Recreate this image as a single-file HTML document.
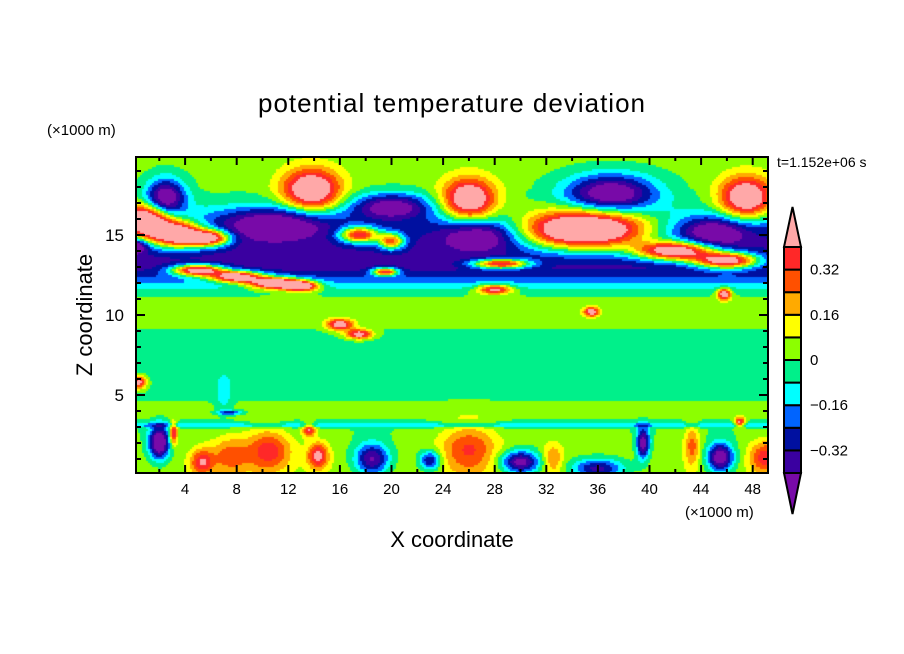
<!DOCTYPE html>
<html><head><meta charset="utf-8">
<style>
body{margin:0;background:#fff;width:904px;height:654px;overflow:hidden;font-family:"Liberation Sans",sans-serif;}
#wrap{position:relative;width:904px;height:654px;}
</style></head>
<body>
<div id="wrap">
<svg id="svg" width="904" height="654" style="position:absolute;left:0;top:0">
<foreignObject x="136" y="157" width="632" height="316">
<canvas id="cv" width="632" height="316" xmlns="http://www.w3.org/1999/xhtml" style="display:block"></canvas>
</foreignObject>
<g id="axes"></g>
<g id="cbar"></g>
<text x="452" y="112" text-anchor="middle" font-family="Liberation Sans, sans-serif" font-size="26" letter-spacing="1">potential temperature deviation</text>
<text x="47" y="135" font-family="Liberation Sans, sans-serif" font-size="15">(×1000 m)</text>
<text x="685" y="517" font-family="Liberation Sans, sans-serif" font-size="15">(×1000 m)</text>
<text x="452" y="547" text-anchor="middle" font-family="Liberation Sans, sans-serif" font-size="22">X coordinate</text>
<text transform="translate(92,315) rotate(-90)" text-anchor="middle" font-family="Liberation Sans, sans-serif" font-size="22">Z coordinate</text>
<text x="777" y="167" font-family="Liberation Sans, sans-serif" font-size="14">t=1.152e+06 s</text>
</svg>
</div>
<script>
// contour levels and colours
const levels=[-0.4,-0.32,-0.24,-0.16,-0.08,0,0.08,0.16,0.24,0.32,0.4];
const colors=["#780aa8","#3a00a0","#0010a0","#0064ff","#00ffff","#00f08a","#8cff00","#ffff00","#ffaa00","#ff5000","#ff2828","#ffa8a8"];
const cbLabels=["0.32","0.16","0","−0.16","−0.32"];
const cbLabelLevels=[0.32,0.16,0,-0.16,-0.32];
const xTicks=[4,8,12,16,20,24,28,32,36,40,44,48];
const yTicks=[5,10,15];
// background vertical profile
const zProf=[0,0.5,1,2,2.9,3.1,3.3,3.6,4,5,6,8,9,9.5,11,11.5,11.8,12.2,12.6,13,13.5,14,14.5,15,15.5,16,16.5,17,18,20];
const vProf=[0.05,0.05,0.04,0.03,0.0,-0.17,-0.04,0.03,0.03,-0.02,-0.04,-0.04,-0.01,0.02,0.02,-0.04,-0.12,-0.2,-0.3,-0.36,-0.36,-0.34,-0.33,-0.3,-0.26,-0.18,-0.1,-0.03,0.02,0.03];
// blobs: x(km), z(km), amplitude, x-width, z-width
const bx=[2.5,1,3.5,6,0.2,5,8,11,13,13.8,11,20,17.5,20,26,27,35,42,46,37,47.5,45,45.8,28,16,17.5,35.5,19.5,28.5,
 2,3.1,5.3,7.5,11,14.3,13.6,18.5,23,26,30,32.5,36,39.5,43.3,45.5,49,47,7.5,7,0.4,10];
const bz=[17.3,15.8,15,14.8,14.3,12.8,12.4,12.0,11.8,17.8,15.8,16.8,15,14.6,17.2,15,15.3,14,13.4,17.6,17.3,15.2,11.3,11.6,9.4,8.8,10.2,12.7,13.2,
 2,2.6,0.8,1.2,1.5,1.2,2.8,1,0.9,1.6,0.8,1,0.4,2,1.8,1.1,1.1,3.3,3.9,5,5.8,1.5];
const ba=[-0.55,0.95,0.9,0.75,-0.35,0.85,0.8,0.8,0.65,0.62,-0.35,-0.45,0.7,0.6,0.62,-0.3,1.05,0.85,0.85,-0.55,0.62,-0.3,0.55,0.5,0.5,0.5,0.5,0.7,0.75,
 -0.6,0.45,0.35,0.25,0.2,0.42,0.4,-0.45,-0.4,0.3,-0.5,0.22,-0.4,-0.5,0.25,-0.55,0.35,0.45,-0.3,-0.12,0.5,0.18];
const bsx=[1.5,2,2,1.5,0.8,2,2,2,1.3,2.2,4,3,1.5,1,2,2.8,5,3,2.5,3.5,2,2.5,0.5,1.3,1.0,1.0,0.6,1,2.2,
 0.8,0.3,0.9,1.5,1.5,0.8,0.5,1.3,0.8,2.2,1.5,0.8,2,0.5,0.6,1,1.2,0.4,1,0.6,0.6,1.5];
const bsz=[1.2,1.0,0.8,0.5,0.4,0.35,0.35,0.35,0.3,1.3,1.0,0.8,0.5,0.5,1.3,0.9,1.2,0.6,0.5,1.2,1.3,0.9,0.35,0.3,0.35,0.3,0.3,0.25,0.3,
 1.0,0.7,0.8,1.2,1.2,0.8,0.4,1.0,0.6,1.6,0.7,1,0.6,1,1.3,0.9,1,0.3,0.15,1.2,0.4,1.5];

const X0=133.5,KX=12.9,Z0=475,KZ=16;
const px=x=>X0+KX*x, py=z=>Z0-KZ*z;
const ix=p=>(p-X0)/KX, iz=p=>(Z0-p)/KZ;
function prof(z){for(let i=1;i<zProf.length;i++){if(z<=zProf[i]){const t=(z-zProf[i-1])/(zProf[i]-zProf[i-1]);return vProf[i-1]+t*(vProf[i]-vProf[i-1]);}}return vProf[vProf.length-1];}
function field(x,z){let v=prof(z);for(let i=0;i<bx.length;i++){const dx=(x-bx[i])/bsx[i],dz=(z-bz[i])/bsz[i];const d=dx*dx+dz*dz;if(d<12)v+=ba[i]*Math.exp(-d);}return v;}
function idx(v){let k=0;while(k<levels.length&&v>=levels[k])k++;return k;}
const rgb=colors.map(c=>[parseInt(c.substr(1,2),16),parseInt(c.substr(3,2),16),parseInt(c.substr(5,2),16)]);
const cv=document.getElementById('cv'),ctx=cv.getContext('2d');
const W=632,H=316,img=ctx.createImageData(W,H);
const S=2;
for(let j=0;j<H;j+=S)for(let i=0;i<W;i+=S){const c=rgb[idx(field(ix(136+i+1),iz(157+j+1)))];
 for(let a=0;a<S;a++)for(let b=0;b<S;b++){if(i+a<W&&j+b<H){const o=((j+b)*W+i+a)*4;img.data[o]=c[0];img.data[o+1]=c[1];img.data[o+2]=c[2];img.data[o+3]=255;}}}
ctx.putImageData(img,0,0);

const NS="http://www.w3.org/2000/svg";
function mk(tag,attrs,parent){const e=document.createElementNS(NS,tag);for(const k in attrs)e.setAttribute(k,attrs[k]);parent.appendChild(e);return e;}
const ax=document.getElementById('axes');
let fr=mk('rect',{x:136,y:157,width:632,height:316,fill:'none',stroke:'#000','stroke-width':2},ax);


for(let x=2;x<=48;x+=2){const L=(x%4===0)?8:4;
 let t=mk('line',{x1:px(x),x2:px(x),y1:473,y2:473-L,stroke:'#000','stroke-width':2},ax);
 
 
 mk('line',{x1:px(x),x2:px(x),y1:157,y2:157+L,stroke:'#000','stroke-width':2},ax);}
xTicks.forEach(x=>{const t=mk('text',{x:px(x),y:494,'text-anchor':'middle','font-size':15,'font-family':'Liberation Sans, sans-serif'},ax);t.textContent=x;
 
 });
for(let z=1;z<=19;z++){const L=(z%5===0)?9:5;
 let t=mk('line',{x1:136,x2:136+L,y1:py(z),y2:py(z),stroke:'#000','stroke-width':2},ax);
 
 
 mk('line',{x1:768,x2:768-L,y1:py(z),y2:py(z),stroke:'#000','stroke-width':2},ax);}
yTicks.forEach(z=>{const t=mk('text',{x:124,y:py(z)+6,'text-anchor':'end','font-size':17,'font-family':'Liberation Sans, sans-serif'},ax);t.textContent=z;
 
 });

// colorbar
const cb=document.getElementById('cbar');
const cx0=784,cx1=801,cyTop=247,cyBot=473,n=levels.length-1,seg=(cyBot-cyTop)/n;
const cy=v=>cyBot-(v-levels[0])/(levels[n]-levels[0])*(cyBot-cyTop);
let up=mk('polygon',{points:`${cx0},${cyTop} ${(cx0+cx1)/2},207 ${cx1},${cyTop}`,fill:colors[colors.length-1],stroke:'#000','stroke-width':2},cb);


let dn=mk('polygon',{points:`${cx0},${cyBot} ${(cx0+cx1)/2},514 ${cx1},${cyBot}`,fill:colors[0],stroke:'#000','stroke-width':2},cb);


for(let k=0;k<n;k++){const r=mk('rect',{x:cx0,y:cy(levels[k+1]),width:cx1-cx0,height:seg,fill:colors[k+1],stroke:'#000','stroke-width':2},cb);
 
 }
cbLabels.forEach((s,i)=>{const t=mk('text',{x:810,y:cy(cbLabelLevels[i])+5,'font-size':15,'font-family':'Liberation Sans, sans-serif'},cb);t.textContent=s;
 
 });
</script>
</body></html>
